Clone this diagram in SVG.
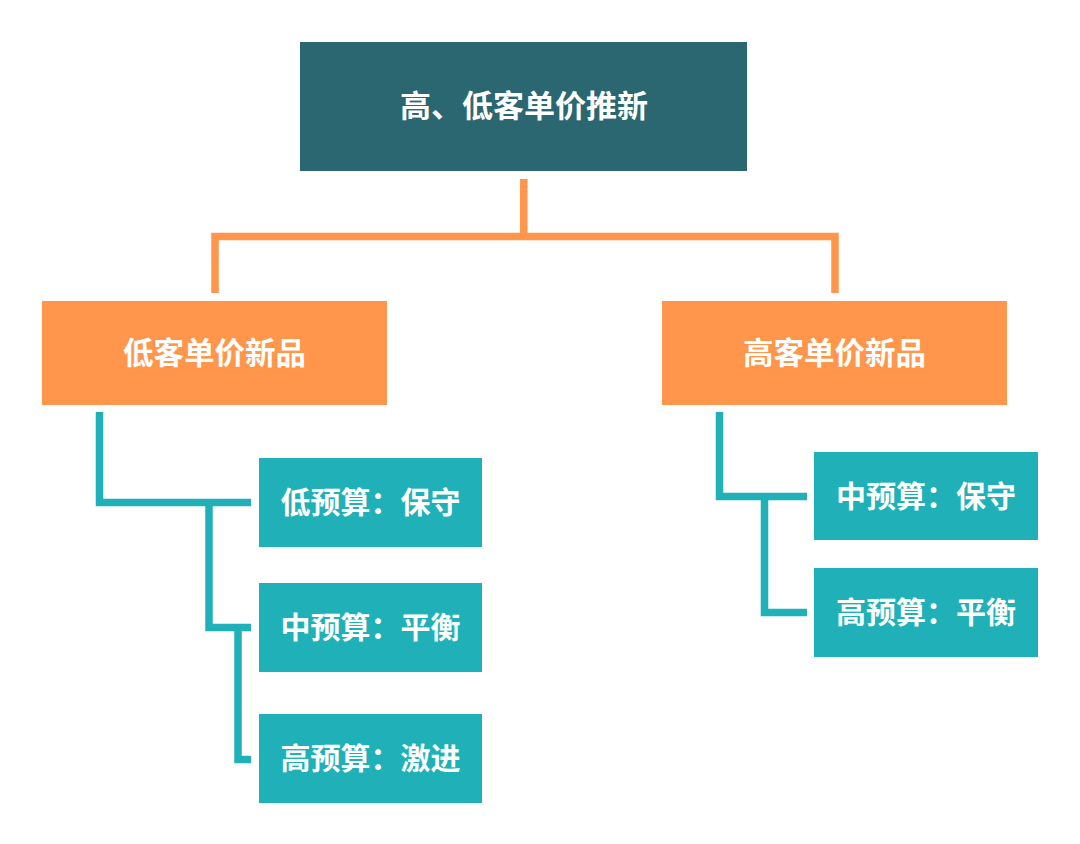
<svg xmlns="http://www.w3.org/2000/svg" width="1080" height="844" viewBox="0 0 1080 844">
<style>
.t{font-family:"Noto Sans CJK SC","Noto Sans CJK JP",sans-serif;font-weight:700;fill:#fff;text-anchor:middle;dominant-baseline:central}
.o{stroke:#FF964B;stroke-width:7.5;fill:none}
.c{stroke:#20B1B8;stroke-width:7.5;fill:none}
</style>
<rect width="1080" height="844" fill="#fff"/>
<g id="connectors">
<path class="o" d="M523.8 179V236.5M215 293V236.5H835V293"/>
<path class="c" d="M99.5 412V502.5H251M209 502.5V627.5H251M238 627.5V759.5H251"/>
<path class="c" d="M719.5 412V496.5H807M764.5 496.5V612.5H807"/>
</g>
<g id="root"><rect x="300" y="42" width="447" height="129" fill="#2B6771"/><text class="t" x="524" y="103.5" font-size="31">高、低客单价推新</text></g>
<g id="low"><rect x="42" y="301" width="345" height="104" fill="#FF964B"/><text class="t" x="214.5" y="350.5" font-size="30.5">低客单价新品</text></g>
<g id="high"><rect x="662" y="301" width="345" height="104" fill="#FF964B"/><text class="t" x="834.5" y="350.5" font-size="30.5">高客单价新品</text></g>
<g id="l1"><rect x="259" y="458" width="223" height="89" fill="#20B1B8"/><text class="t" x="370.5" y="500" font-size="30">低预算：保守</text></g>
<g id="l2"><rect x="259" y="583" width="223" height="89" fill="#20B1B8"/><text class="t" x="370.5" y="625" font-size="30">中预算：平衡</text></g>
<g id="l3"><rect x="259" y="714" width="223" height="89" fill="#20B1B8"/><text class="t" x="370.5" y="756" font-size="30">高预算：激进</text></g>
<g id="r1"><rect x="814" y="452" width="224" height="88" fill="#20B1B8"/><text class="t" x="926" y="493.5" font-size="30">中预算：保守</text></g>
<g id="r2"><rect x="814" y="568" width="224" height="89" fill="#20B1B8"/><text class="t" x="926" y="610" font-size="30">高预算：平衡</text></g>
</svg>
